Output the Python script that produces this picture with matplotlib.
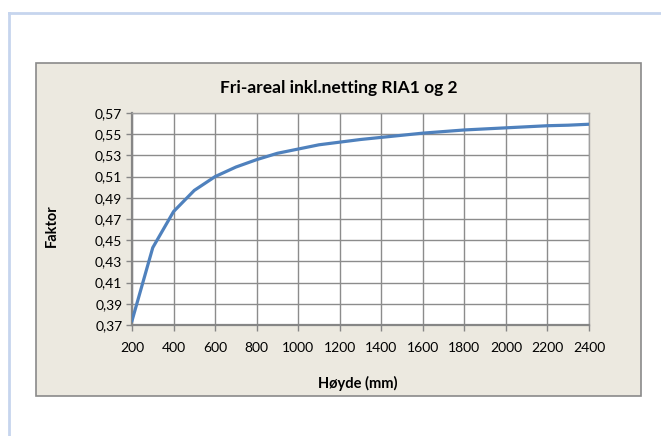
import matplotlib.pyplot as plt
from matplotlib.patches import Rectangle
from matplotlib.lines import Line2D
from matplotlib.ticker import FuncFormatter

plt.rcParams['font.family'] = ['Lato', 'DejaVu Sans']

# data
hoyde = [200, 300, 400, 500, 600, 700, 800, 900, 1000, 1100, 1200, 1300,
         1400, 1500, 1600, 1700, 1800, 1900, 2000, 2100, 2200, 2300, 2400]
faktor = [0.374, 0.443, 0.477, 0.497, 0.510, 0.519, 0.526, 0.532, 0.536,
          0.540, 0.5425, 0.545, 0.547, 0.549, 0.551, 0.5525, 0.554, 0.555,
          0.556, 0.557, 0.558, 0.5585, 0.5594]
x_ticks = list(range(200, 2401, 200))
y_ticks = [0.37, 0.39, 0.41, 0.43, 0.45, 0.47, 0.49, 0.51, 0.53, 0.55, 0.57]

W, H = 661, 436
fig = plt.figure(figsize=(W / 100, H / 100), dpi=100)

# worksheet frame lines (light blue)
fig.add_artist(Line2D([9 / W, 9 / W], [0, 1 - 13 / H], color='#c6d5ee', lw=2, zorder=-2))
fig.add_artist(Line2D([9 / W, 1], [1 - 13 / H, 1 - 13 / H], color='#c6d5ee', lw=2, zorder=-2))

# chart area box, kept behind the axes
fig.add_artist(Rectangle((36 / W, 1 - 396 / H), (641 - 36) / W, (396 - 63) / H,
                         facecolor='#ece9e0', edgecolor='#8a8a8a', lw=1.2, zorder=-1))

ax = fig.add_axes([132 / W, 1 - 325 / H, (589 - 132) / W, (325 - 113) / H])
ax.set_zorder(2)
ax.set_facecolor('white')
ax.plot(hoyde, faktor, color='#4f81bd', lw=2.3, zorder=3)

ax.set_xlim(200, 2400)
ax.set_ylim(0.37, 0.57)
ax.set_xticks(x_ticks)
ax.set_yticks(y_ticks)
ax.yaxis.set_major_formatter(FuncFormatter(lambda v, p: f'{v:.2f}'.replace('.', ',')))
ax.grid(True, color='#8c8c8c', lw=1)
ax.set_axisbelow(True)

for s in ['top', 'right']:
    ax.spines[s].set_color('#a0a0a0')
    ax.spines[s].set_linewidth(1)
for s in ['left', 'bottom']:
    ax.spines[s].set_color('#868686')
    ax.spines[s].set_linewidth(1.6)
ax.tick_params(direction='out', length=4, width=1, color='#868686',
               labelsize=10, labelcolor='black', pad=3)
ax.tick_params(axis='x', pad=8)

fig.text(338.5 / W, 1 - 88 / H, 'Fri-areal inkl.netting RIA1 og 2',
         ha='center', va='center', fontsize=12.5, fontweight='bold')
fig.text(52 / W, 1 - 226 / H, 'Faktor', ha='center', va='center',
         rotation=90, fontsize=10.5, fontweight='bold')
fig.text(358 / W, 1 - 383 / H, 'Høyde (mm)', ha='center', va='center',
         fontsize=10.5, fontweight='bold')

fig.savefig('out.png', dpi=100)
